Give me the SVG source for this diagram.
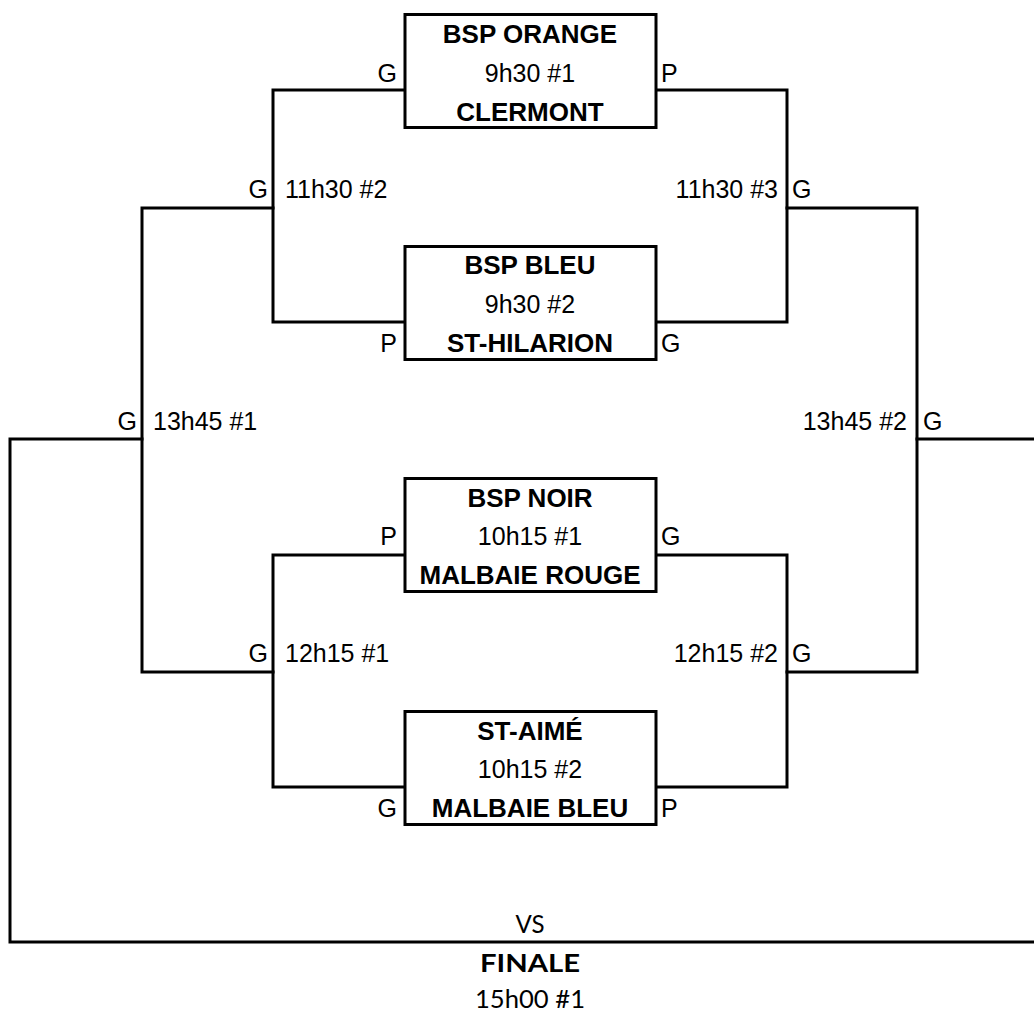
<svg xmlns="http://www.w3.org/2000/svg" width="1034" height="1011" viewBox="0 0 1034 1011">
<style>
text{font-family:"Liberation Sans",Arial,sans-serif;font-size:25px;fill:#000}
.b{font-weight:bold;font-size:26px}
.c{text-anchor:middle}
.e{text-anchor:end}
.box{fill:#fff;stroke:#000;stroke-width:3}
.ln{fill:none;stroke:#000;stroke-width:3;stroke-linecap:square}
.f{font-family:Lato,"Noto Sans",sans-serif;font-size:25px}
</style>
<rect width="1034" height="1011" fill="#fff"/>
<g id="connectors">
<polyline class="ln" points="405,90 273,90 273,322 405,322"/>
<polyline class="ln" points="655,90 787,90 787,322 655,322"/>
<polyline class="ln" points="405,555 273,555 273,787 405,787"/>
<polyline class="ln" points="655,555 787,555 787,787 655,787"/>
<polyline class="ln" points="273,208 142,208 142,672 273,672"/>
<polyline class="ln" points="787,208 917,208 917,672 787,672"/>
<polyline class="ln" points="142,439 10,439 10,942 1036,942"/>
<line class="ln" x1="917" y1="439" x2="1036" y2="439"/>
</g>
<g id="match1">
<rect class="box" x="405" y="14.5" width="251" height="113"/>
<text class="b c" x="530" y="43">BSP ORANGE</text>
<text class="c" x="530" y="82">9h30 #1</text>
<text class="b c" x="530" y="121">CLERMONT</text>
<text class="e" x="397" y="82">G</text>
<text x="661" y="82">P</text>
</g>
<g id="match2">
<rect class="box" x="405" y="246.5" width="251" height="113"/>
<text class="b c" x="530" y="274">BSP BLEU</text>
<text class="c" x="530" y="313">9h30 #2</text>
<text class="b c" x="530" y="352">ST-HILARION</text>
<text class="e" x="397" y="352">P</text>
<text x="661" y="352">G</text>
</g>
<g id="match3">
<rect class="box" x="405" y="478.5" width="251" height="113"/>
<text class="b c" x="530" y="507">BSP NOIR</text>
<text class="c" x="530" y="545">10h15 #1</text>
<text class="b c" x="530" y="584">MALBAIE ROUGE</text>
<text class="e" x="397" y="545">P</text>
<text x="661" y="545">G</text>
</g>
<g id="match4">
<rect class="box" x="405" y="711.5" width="251" height="113"/>
<text class="b c" x="530" y="740">ST-AIMÉ</text>
<text class="c" x="530" y="778">10h15 #2</text>
<text class="b c" x="530" y="817">MALBAIE BLEU</text>
<text class="e" x="397" y="817">G</text>
<text x="661" y="817">P</text>
</g>
<g id="round2-left-top">
<text class="e" x="268" y="198">G</text>
<text x="285" y="198">11h30 #2</text>
</g>
<g id="round2-right-top">
<text class="e" x="778" y="198">11h30 #3</text>
<text x="792" y="198">G</text>
</g>
<g id="round2-left-bottom">
<text class="e" x="268" y="662">G</text>
<text x="285" y="662">12h15 #1</text>
</g>
<g id="round2-right-bottom">
<text class="e" x="778" y="662">12h15 #2</text>
<text x="792" y="662">G</text>
</g>
<g id="semi-left">
<text class="e" x="137" y="430">G</text>
<text x="153" y="430">13h45 #1</text>
</g>
<g id="semi-right">
<text class="e" x="907" y="430">13h45 #2</text>
<text x="923" y="430">G</text>
</g>
<g id="finale">
<text class="f c" x="530" y="933" textLength="29" lengthAdjust="spacingAndGlyphs">VS</text>
<text class="f b c" x="530" y="972" textLength="100" lengthAdjust="spacingAndGlyphs">FINALE</text>
<text class="f c" x="530" y="1008" textLength="110" lengthAdjust="spacingAndGlyphs">15h00 #1</text>
</g>
</svg>
